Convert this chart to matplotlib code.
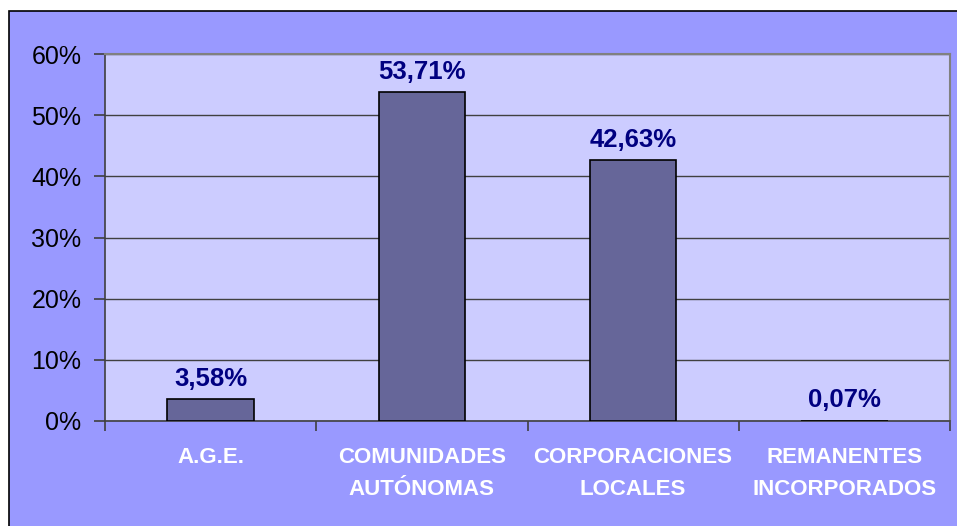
import matplotlib.pyplot as plt
from matplotlib.patches import Rectangle

categorias = ['A.G.E.', 'COMUNIDADES\nAUTÓNOMAS', 'CORPORACIONES\nLOCALES', 'REMANENTES\nINCORPORADOS']
porcentajes = [3.58, 53.71, 42.63, 0.07]
etiquetas = ['3,58%', '53,71%', '42,63%', '0,07%']
yticks = [0, 10, 20, 30, 40, 50, 60]

plt.rcParams['font.family'] = ['Liberation Sans', 'DejaVu Sans']

fig = plt.figure(figsize=(9.57, 5.26), dpi=100)
fig.patch.set_facecolor('white')

# marco exterior azul
W, H = 957, 526
fig.patches.append(Rectangle((9 / W, -0.01), 1.02, 1 - 11 / H + 0.01, transform=fig.transFigure,
                             facecolor='#9999FF', edgecolor='black', linewidth=1.2, zorder=-1))

ax = fig.add_axes([105 / W, 1 - 421 / H, 845 / W, 367 / H])
ax.set_facecolor('#CCCCFF')

x = range(len(categorias))
bars = ax.bar(x, porcentajes, width=0.41, color='#666699', edgecolor='black', linewidth=1.2, zorder=3)
ax.bar_label(bars, labels=etiquetas, padding=6, color='#000080', fontsize=18.5, fontweight='bold')

ax.set_xlim(-0.5, len(categorias) - 0.5)
ax.set_ylim(0, 60)
ax.set_yticks(yticks)
ax.set_yticklabels([f'{v}%' for v in yticks], fontsize=18, color='black')
ax.yaxis.grid(True, color='#404040', linewidth=1, zorder=0)

ax.set_xticks([i - 0.5 for i in range(len(categorias) + 1)])
ax.set_xticklabels([])
ax.set_xticks(list(x), minor=True)
ax.set_xticklabels(categorias, minor=True, fontsize=16, fontweight='bold', color='white', linespacing=1.65)
ax.tick_params(axis='x', which='minor', length=0, pad=19)
ax.tick_params(axis='x', which='major', length=7, color='#404040', width=1.2)
ax.tick_params(axis='y', length=8, color='#404040', width=1.2, pad=9)

for side in ['left', 'bottom']:
    ax.spines[side].set_color('#404040')
    ax.spines[side].set_linewidth(1.2)
for side in ['top', 'right']:
    ax.spines[side].set_color('#808080')
    ax.spines[side].set_linewidth(1.5)

fig.savefig('out.png', dpi=100)
